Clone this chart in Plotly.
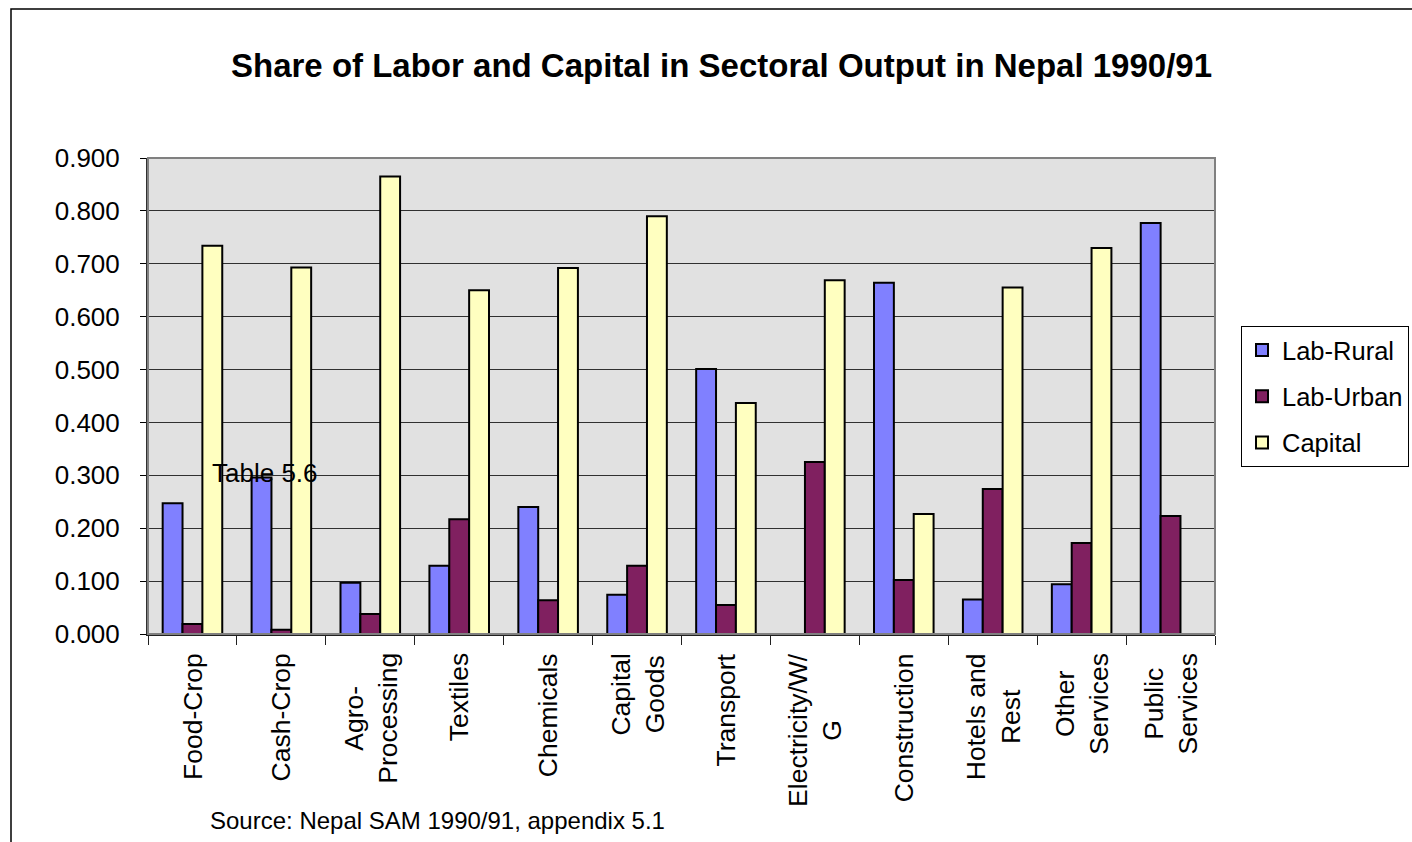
import plotly.graph_objects as go

# Sector categories (line breaks as they wrap under the axis)
sectors = ["Food-Crop", "Cash-Crop", "Agro-Processing", "Textiles", "Chemicals",
           "Capital Goods", "Transport", "Electricity/W/G", "Construction",
           "Hotels and Rest", "Other Services", "Public Services"]
sector_labels = ["Food-Crop", "Cash-Crop", "Agro-<br>Processing", "Textiles", "Chemicals",
                 "Capital<br>Goods", "Transport", "Electricity/W/<br>G", "Construction",
                 "Hotels and<br>Rest", "Other<br>Services", "Public<br>Services"]

# Factor shares in sectoral output
lab_rural = [0.247, 0.296, 0.097, 0.129, 0.240, 0.074, 0.501, 0.000, 0.664, 0.065, 0.094, 0.777]
lab_urban = [0.019, 0.008, 0.038, 0.217, 0.064, 0.129, 0.055, 0.325, 0.102, 0.274, 0.172, 0.223]
capital   = [0.734, 0.693, 0.865, 0.650, 0.692, 0.790, 0.437, 0.669, 0.227, 0.655, 0.730, 0.000]

series = [("Lab-Rural", lab_rural, "#8080FF"),
          ("Lab-Urban", lab_urban, "#802060"),
          ("Capital", capital, "#FFFFC0")]

W, H = 1412, 842
L, R, T, B = 148, 197, 158, 208
PW, PH = W - L - R, H - T - B
FONT = "Liberation Sans, Arial, Helvetica, sans-serif"


def px_x(x):
    return (x - L) / PW


def px_y(y):
    return (H - B - y) / PH


fig = go.Figure()
for i, (name, vals, col) in enumerate(series):
    fig.add_trace(go.Bar(
        x=sectors, y=vals, name=name, legendgroup=name,
        marker=dict(color=col, line=dict(color="black", width=2)),
    ))

# Category labels written vertically under each group
for cat, lab in zip(sectors, sector_labels):
    fig.add_annotation(
        x=cat, xref="x", y=px_y(651), yref="paper",
        text=lab, textangle=-90, showarrow=False,
        xanchor="center", yanchor="top", align="center",
        font=dict(family=FONT, size=26.5, color="black"),
    )

fig.add_annotation(
    x=px_x(210), y=px_y(473), xref="paper", yref="paper",
    text="Table 5.6", showarrow=False, xanchor="left", yanchor="middle",
    font=dict(family=FONT, size=26, color="black"),
)
fig.add_annotation(
    x=px_x(208), y=px_y(820), xref="paper", yref="paper",
    text="Source: Nepal SAM 1990/91, appendix 5.1", showarrow=False,
    xanchor="left", yanchor="middle",
    font=dict(family=FONT, size=24, color="black"),
)

# Plot area border and outer chart frame
fig.add_shape(type="rect", xref="paper", yref="paper", x0=0, x1=1, y0=0, y1=1,
              line=dict(color="#808080", width=2), layer="above")
fig.add_shape(type="rect", xref="paper", yref="paper",
              x0=px_x(11), x1=px_x(W + 20), y0=px_y(H + 20), y1=px_y(9),
              line=dict(color="black", width=1.5))

fig.update_layout(
    width=W, height=H,
    margin=dict(l=L, r=R, t=T, b=B, autoexpand=False),
    paper_bgcolor="white", plot_bgcolor="#E1E1E1",
    barmode="group", bargap=0.33, bargroupgap=0,
    font=dict(family=FONT, color="black"),
    title=dict(
        text="<b>Share of Labor and Capital in Sectoral Output in Nepal 1990/91</b>",
        x=0.511, xanchor="center", xref="container",
        y=1 - 65 / H, yanchor="middle", yref="container",
        font=dict(family=FONT, size=33, color="black"),
    ),
    legend=dict(
        x=px_x(1241), y=px_y(326), xanchor="left", yanchor="top",
        bgcolor="white", bordercolor="black", borderwidth=1,
        font=dict(family=FONT, size=25.5, color="black"),
        tracegroupgap=10, itemclick=False,
    ),
    showlegend=True,
)

fig.update_xaxes(
    type="category", showticklabels=False, tickson="boundaries",
    ticks="outside", ticklen=9, tickcolor="#202020", tickwidth=1,
    showline=True, linecolor="#202020", linewidth=2, showgrid=False,
)
fig.update_yaxes(
    range=[0, 0.9], dtick=0.1, tickformat=".3f",
    ticks="outside", ticklen=6, tickcolor="black", tickwidth=1,
    ticklabelstandoff=15,
    showline=True, linecolor="#303030", linewidth=2,
    showgrid=True, gridcolor="#303030", gridwidth=1, zeroline=False,
    tickfont=dict(family=FONT, size=26, color="black"),
)

fig.write_html("out.html")
